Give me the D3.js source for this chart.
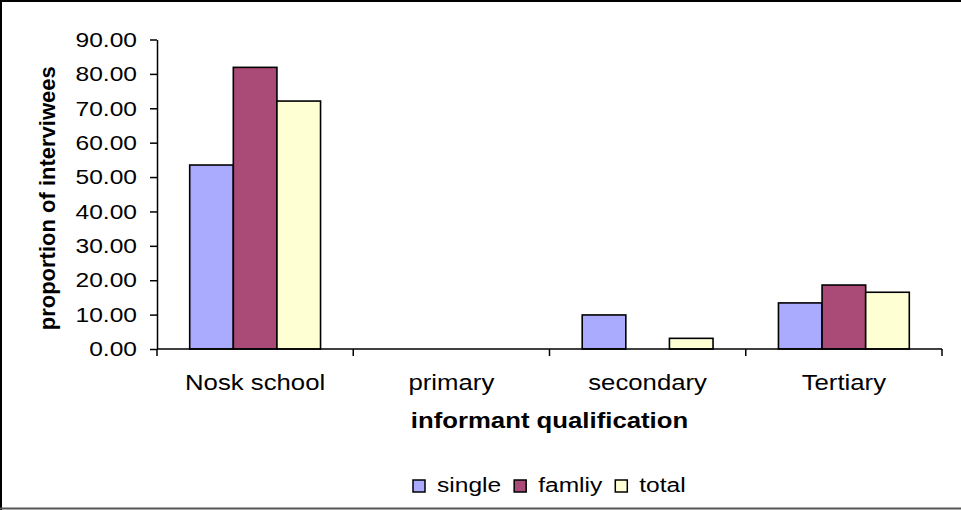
<!DOCTYPE html>
<html>
<head>
<meta charset="utf-8">
<script src="https://cdn.jsdelivr.net/npm/d3@7"></script>
<style>
  body { margin: 0; background: #fff; }
  text { font-family: "Liberation Sans", Arial, sans-serif; fill: #000; }
</style>
</head>
<body>
<div id="chart"></div>
<script>
var categories = ["Nosk school", "primary", "secondary", "Tertiary"];
var series = ["single", "famliy", "total"];
var single = [53.5, 0, 9.9, 13.4];
var famliy = [81.9, 0, 0, 18.6];
var total  = [72.1, 0, 3.1, 16.5];
var yTicks = [0, 10, 20, 30, 40, 50, 60, 70, 80, 90];
var colors = ["#aaaaff", "#a94a77", "#ffffd4"];

var width = 961, height = 510,
    margin = {top: 39.5, right: 19, bottom: 161, left: 157},
    sx = 1.17; // the original is drawn a bit wide

var values = {single: single, famliy: famliy, total: total};

var svg = d3.select("#chart").append("svg")
    .attr("width", width)
    .attr("height", height);

svg.append("rect")
    .attr("width", width).attr("height", height)
    .attr("fill", "#fff");

// frame (left + top dark, bottom grey)
svg.append("line").attr("x1", 1).attr("x2", 1).attr("y1", 0).attr("y2", height)
    .attr("stroke", "#000").attr("stroke-width", 2);
svg.append("line").attr("x1", 0).attr("x2", width).attr("y1", 1).attr("y2", 1)
    .attr("stroke", "#000").attr("stroke-width", 2);
svg.append("line").attr("x1", 0).attr("x2", width).attr("y1", 508.5).attr("y2", 508.5)
    .attr("stroke", "#555").attr("stroke-width", 2);

var x0 = d3.scaleBand()
    .domain(categories)
    .range([margin.left, width - margin.right])
    .paddingInner(0).paddingOuter(0);

var x1 = d3.scaleBand()
    .domain(series)
    .range([0, x0.bandwidth()])
    .paddingInner(0).paddingOuter(0.75);

var yScale = d3.scaleLinear()
    .domain([0, 90])
    .range([height - margin.bottom, margin.top]);

function wide(sel, x) {
  sel.attr("x", x / sx).attr("transform", "scale(" + sx + ",1)");
}

// bars
var groups = svg.append("g").selectAll("g")
    .data(categories)
  .enter().append("g")
    .attr("transform", function(d) { return "translate(" + x0(d) + ",0)"; });

groups.selectAll("rect")
    .data(function(c, i) { return series.map(function(s, j) { return {s: s, v: values[s][i], j: j}; }); })
  .enter().append("rect")
    .filter(function(d) { return d.v > 0; })
    .attr("x", function(d) { return x1(d.s); })
    .attr("y", function(d) { return yScale(d.v); })
    .attr("width", x1.bandwidth())
    .attr("height", function(d) { return yScale(0) - yScale(d.v); })
    .attr("fill", function(d) { return colors[d.j]; })
    .attr("stroke", "#000")
    .attr("stroke-width", 1.6);

// y axis
var yAxis = svg.append("g")
    .attr("transform", "translate(" + margin.left + ",0)")
    .call(d3.axisLeft(yScale)
      .tickValues(yTicks)
      .tickFormat(d3.format(".2f"))
      .tickSize(7)
      .tickSizeOuter(0)
      .tickPadding(13));
yAxis.select(".domain").attr("stroke", "#000").attr("stroke-width", 1.5);
yAxis.selectAll(".tick line").attr("stroke", "#000").attr("stroke-width", 1.5);
yAxis.selectAll(".tick text")
    .style("font-family", "'Liberation Sans', Arial, sans-serif")
    .style("font-size", "21px")
    .attr("fill", "#000")
    .attr("x", -20 / sx)
    .attr("transform", "scale(" + sx + ",1)");

// x axis line and category ticks
svg.append("line")
    .attr("x1", margin.left).attr("x2", width - margin.right)
    .attr("y1", yScale(0)).attr("y2", yScale(0))
    .attr("stroke", "#000").attr("stroke-width", 1.5);

var bounds = categories.map(function(c) { return x0(c); }).concat([x0.range()[1]]);
svg.append("g").selectAll("line")
    .data(bounds)
  .enter().append("line")
    .attr("x1", function(d) { return d; }).attr("x2", function(d) { return d; })
    .attr("y1", yScale(0)).attr("y2", yScale(0) + 7)
    .attr("stroke", "#000").attr("stroke-width", 1.5);

svg.append("g").selectAll("text")
    .data(categories)
  .enter().append("text")
    .attr("y", 390)
    .attr("text-anchor", "middle")
    .style("font-size", "22px")
    .text(function(d) { return d; })
    .each(function(d) { wide(d3.select(this), x0(d) + x0.bandwidth() / 2); });

// axis titles
svg.append("text")
    .attr("y", 428)
    .attr("text-anchor", "middle")
    .style("font-size", "22px")
    .style("font-weight", "bold")
    .text("informant qualification")
    .call(wide, (x0.range()[0] + x0.range()[1]) / 2);

svg.append("text")
    .attr("transform", "translate(55," + ((yScale(0) + yScale(90)) / 2 + 4) + ") rotate(-90)")
    .attr("text-anchor", "middle")
    .style("font-size", "22px")
    .style("font-weight", "bold")
    .text("proportion of interviwees");

// legend
var legend = svg.append("g");
var lx = 413;
series.forEach(function(s, i) {
  legend.append("rect")
      .attr("x", lx).attr("y", 480)
      .attr("width", 12).attr("height", 12)
      .attr("fill", colors[i])
      .attr("stroke", "#000").attr("stroke-width", 1.5);
  var t = legend.append("text")
      .attr("y", 492)
      .style("font-size", "21px")
      .text(s)
      .call(wide, lx + 24);
  lx += 24 + t.node().getComputedTextLength() * sx + 13;
});
</script>
</body>
</html>
